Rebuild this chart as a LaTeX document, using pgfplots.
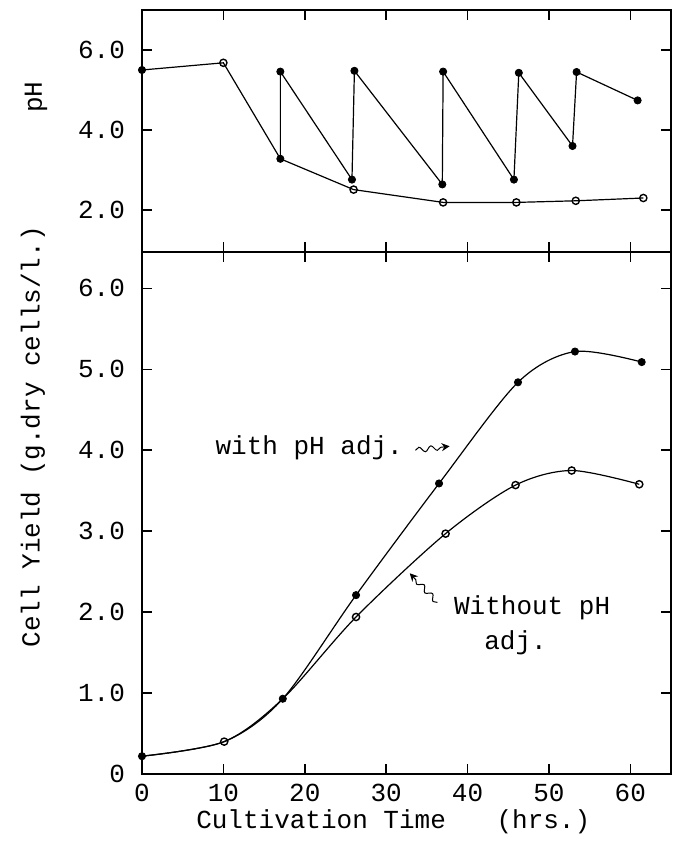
\documentclass[border=0pt]{standalone}
\usepackage{fontspec}
\setmainfont{Liberation Mono}
\usepackage{pgfplots}
\pgfplotsset{compat=1.18}
\usetikzlibrary{decorations.pathmorphing,arrows.meta}

\begin{document}
\begin{tikzpicture}[font=\fontsize{13}{15}\selectfont]
\pgfplotsset{
  base/.style={
    scale only axis, width=264.5pt, xmin=0, xmax=65,
    xtick={0,10,20,30,40,50,60},
    tick align=inside, major tick length=5pt,
    axis line style={line width=0.8pt},
    every tick/.style={line width=0.8pt, black},
    /pgf/number format/assume math mode=true,
    tick label style={font=\fontsize{13}{15}\selectfont},
    yticklabel style={anchor=east, xshift=-5pt},
    clip=false,
  }
}
\begin{axis}[base, name=lower, height=261pt, ymin=0, ymax=6.45,
  ytick={0,1,2,3,4,5,6}, yticklabels={0,1.0,2.0,3.0,4.0,5.0,6.0},
  xticklabels={0,10,20,30,40,50,60},
  xticklabel style={anchor=center, yshift=-9.5pt},
  xlabel={Cultivation Time\hspace{1.95em}(hrs.)},
  xlabel style={at={(rel axis cs:0.475,0)}, anchor=center, yshift=-24pt},
  ylabel={Cell Yield (g.dry cells/l.)},
  ylabel style={at={(rel axis cs:0,0.646)}, anchor=center, yshift=54.5pt},
]
% curves
\addplot[black, line width=0.6pt, smooth, tension=0.5, mark=none] coordinates {
 (0,0.22) (10.1,0.40) (17.3,0.93) (26.3,2.21) (36.5,3.59) (46.2,4.84) (53.2,5.22) (61.4,5.09)};
\addplot[black, line width=0.6pt, smooth, tension=0.5, mark=none] coordinates {
 (0,0.22) (10.1,0.40) (17.3,0.93) (26.3,1.94) (37.3,2.97) (45.9,3.57) (52.8,3.75) (61.1,3.58)};
% marks
\addplot[only marks, mark=*, mark size=1.8pt, black] coordinates {
 (0,0.22) (17.3,0.93) (26.3,2.21) (36.5,3.59) (46.2,4.84) (53.2,5.22) (61.4,5.09)};
\addplot[only marks, mark=o, mark size=1.8pt, black, mark options={fill=white, line width=0.7pt}] coordinates {
 (10.1,0.40) (26.3,1.94) (37.3,2.97) (45.9,3.57) (52.8,3.75) (61.1,3.58)};
% annotations
\node[anchor=west, inner sep=0pt] at (axis cs:9,4.03) {with pH adj.};
\draw[-{Stealth[length=4pt,width=4pt]}, line width=0.5pt, decorate,
  decoration={snake, amplitude=1.3pt, segment length=6pt, post length=3pt}]
  (axis cs:33.6,4.0) -- (axis cs:37.8,4.05);
\node[anchor=west, inner sep=0pt] at (axis cs:38.3,2.05) {Without pH};
\node[inner sep=0pt] at (axis cs:45.9,1.62) {adj.};
\draw[-{Stealth[length=4pt,width=4pt]}, line width=0.5pt, decorate,
  decoration={snake, amplitude=1.3pt, segment length=6pt, post length=3pt}]
  (axis cs:36.3,2.12) -- (axis cs:32.9,2.48);
\end{axis}

\begin{axis}[base, name=upper, at={(lower.north west)}, anchor=south west,
  height=121pt, ymin=0.95, ymax=7,
  ytick={2,4,6}, yticklabels={2.0,4.0,6.0}, xticklabels={},
  ylabel={pH},
  ylabel style={at={(rel axis cs:0,0.64)}, anchor=center, yshift=53pt},
]
\addplot[black, line width=0.6pt, mark=none] coordinates {
 (0,5.5) (10,5.68) (17,3.28) (26,2.51) (37,2.19) (46,2.19) (53.3,2.23) (61.6,2.30)};
\addplot[black, line width=0.6pt, mark=none] coordinates {
 (17,3.28) (17,5.46) (25.8,2.76) (26.1,5.48) (36.9,2.64) (37,5.46) (45.7,2.76) (46.3,5.43) (52.9,3.6) (53.4,5.45) (60.9,4.74)};
\addplot[only marks, mark=*, mark size=1.8pt, black] coordinates {
 (0,5.5) (17,3.28) (17,5.46) (25.8,2.76) (26.1,5.48) (36.9,2.64) (37,5.46) (45.7,2.76) (46.3,5.43) (52.9,3.6) (53.4,5.45) (60.9,4.74)};
\addplot[only marks, mark=o, mark size=1.8pt, black, mark options={fill=white, line width=0.7pt}] coordinates {
 (10,5.68) (26,2.51) (37,2.19) (46,2.19) (53.3,2.23) (61.6,2.30)};
\end{axis}
\path (lower.south west) ++(-71pt,-34pt) rectangle ++(336.5pt,421pt);
\end{tikzpicture}
\end{document}
